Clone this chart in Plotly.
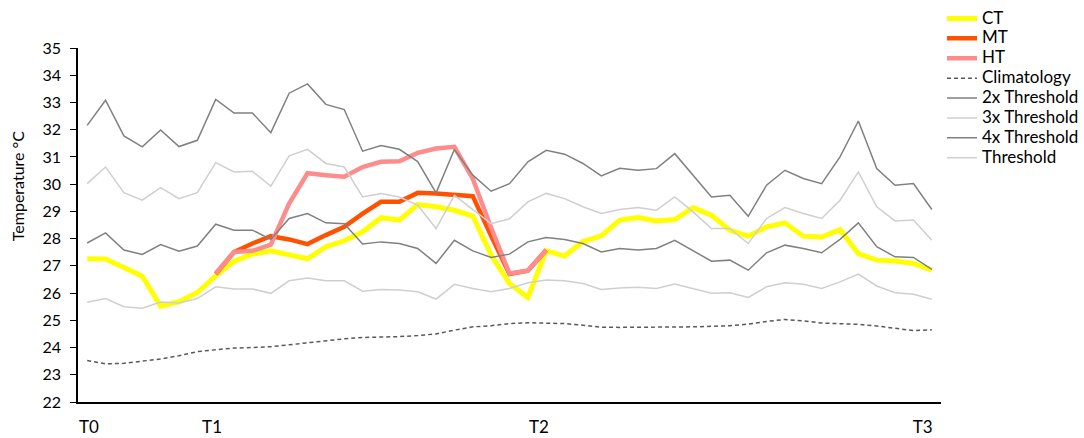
import plotly.graph_objects as go

N = None
ct = [27.26, 27.25, 26.94, 26.62, 25.52, 25.68, 26.02, 26.63, 27.17, 27.43, 27.55, 27.39, 27.26, 27.70, 27.92,
      28.25, 28.77, 28.68, 29.25, 29.17, 29.04, 28.83, 27.40, 26.35, 25.84, 27.55, 27.36, 27.89, 28.10, 28.68,
      28.77, 28.65, 28.70, 29.14, 28.86, 28.31, 28.09, 28.43, 28.58, 28.09, 28.06, 28.33, 27.45, 27.21, 27.18, 27.09, 26.84]
mt = [N, N, N, N, N, N, N, 26.70, 27.51, 27.82, 28.09, 27.97, 27.80, 28.13, 28.43,
      28.92, 29.35, 29.35, 29.68, 29.66, 29.59, 29.56, 28.10, 26.70, 26.82, 27.58] + [N] * 21
ht = [N, N, N, N, N, N, N, 26.72, 27.51, 27.55, 27.78, 29.29, 30.40, 30.33, 30.27,
      30.63, 30.82, 30.84, 31.15, 31.31, 31.37, 30.20, 28.40, 26.72, 26.82, 27.58] + [N] * 21
climatology = [23.52, 23.40, 23.42, 23.50, 23.58, 23.70, 23.85, 23.92, 23.98, 24.00, 24.03, 24.10, 24.18, 24.25, 24.32,
               24.37, 24.38, 24.40, 24.44, 24.50, 24.64, 24.76, 24.80, 24.88, 24.91, 24.90, 24.88, 24.82, 24.75, 24.74,
               24.74, 24.75, 24.76, 24.76, 24.78, 24.80, 24.86, 24.96, 25.03, 24.98, 24.90, 24.87, 24.85, 24.79, 24.70, 24.62, 24.65]
thr2 = [27.84, 28.21, 27.58, 27.42, 27.78, 27.54, 27.73, 28.53, 28.31, 28.31, 27.97, 28.74, 28.92, 28.58, 28.55,
        27.80, 27.88, 27.82, 27.64, 27.09, 27.94, 27.55, 27.31, 27.43, 27.88, 28.04, 27.97, 27.82, 27.51, 27.64,
        27.58, 27.64, 27.94, 27.55, 27.17, 27.21, 26.84, 27.48, 27.76, 27.64, 27.48, 27.97, 28.58, 27.70, 27.33, 27.31, 26.87]
thr3 = [30.02, 30.63, 29.69, 29.41, 29.87, 29.47, 29.69, 30.79, 30.45, 30.47, 29.93, 31.04, 31.28, 30.76, 30.63,
        29.53, 29.66, 29.53, 29.23, 28.37, 29.59, 29.07, 28.55, 28.73, 29.35, 29.66, 29.47, 29.17, 28.92, 29.07,
        29.14, 29.04, 29.53, 28.98, 28.37, 28.37, 27.82, 28.74, 29.14, 28.92, 28.74, 29.41, 30.45, 29.17, 28.65, 28.68, 27.94]
thr4 = [32.16, 33.08, 31.77, 31.37, 31.99, 31.38, 31.61, 33.11, 32.61, 32.61, 31.89, 33.34, 33.68, 32.93, 32.74,
        31.21, 31.42, 31.28, 30.83, 29.68, 31.27, 30.33, 29.74, 30.02, 30.82, 31.24, 31.10, 30.76, 30.30, 30.58,
        30.51, 30.57, 31.12, 30.33, 29.53, 29.59, 28.82, 29.96, 30.51, 30.21, 30.02, 31.00, 32.32, 30.57, 29.96, 30.02, 29.07]
thr1 = [25.66, 25.80, 25.50, 25.44, 25.67, 25.64, 25.80, 26.23, 26.15, 26.15, 25.99, 26.45, 26.55, 26.45, 26.45,
        26.07, 26.13, 26.11, 26.05, 25.78, 26.32, 26.17, 26.05, 26.17, 26.38, 26.48, 26.45, 26.35, 26.13, 26.19,
        26.21, 26.17, 26.33, 26.17, 25.99, 26.01, 25.84, 26.23, 26.38, 26.32, 26.17, 26.41, 26.70, 26.26, 26.01, 25.96, 25.77]

x = list(range(len(ct)))
tick_labels = ["T0", "T1", "T2", "T3"]
tick_pos = [0.1, 6.8, 24.6, 45.5]

FONT = "Lato"
fig = go.Figure()
series = [
    ("CT", ct, dict(color="#FFFF00", width=5)),
    ("MT", mt, dict(color="#FF5200", width=4.5)),
    ("HT", ht, dict(color="#FF8C8C", width=4.5)),
    ("Climatology", climatology, dict(color="#595959", width=1.5, dash="4px,3px")),
    ("2x Threshold", thr2, dict(color="#808080", width=1.5)),
    ("3x Threshold", thr3, dict(color="#CFCFCF", width=1.5)),
    ("4x Threshold", thr4, dict(color="#808080", width=1.5)),
    ("Threshold", thr1, dict(color="#CFCFCF", width=1.5)),
]
for name, y, line in series:
    fig.add_trace(go.Scatter(x=x, y=y, name='<span style="font-size:17px">%s</span>' % name,
                             mode="lines", line=line, connectgaps=False))

fig.update_layout(
    width=1084, height=438,
    margin=dict(l=78, r=143, t=48, b=36, autoexpand=False),
    plot_bgcolor="white", paper_bgcolor="white",
    font=dict(family=FONT, size=15, color="black"),
    showlegend=True,
    legend=dict(x=942 / 1084, xref="container", y=1 - 3.5 / 438, yref="container",
                xanchor="left", yanchor="top", font=dict(size=13, family=FONT),
                tracegroupgap=0, itemwidth=30, bgcolor="rgba(0,0,0,0)"),
    annotations=[dict(text="Temperature °C", textangle=-90, xref="paper", yref="paper",
                      x=(17 - 78) / 862.7, y=(402 - 186) / 354.3, showarrow=False,
                      xanchor="center", yanchor="middle", font=dict(size=16, family=FONT))],
)
fig.update_xaxes(range=[-0.5, 46.5], tickvals=tick_pos, ticktext=tick_labels, showgrid=False,
                 zeroline=False, showline=True, linecolor="black", linewidth=1.5, ticks="",
                 ticklabelstandoff=9, tickfont=dict(size=17, family=FONT), automargin=False)
fig.update_yaxes(range=[22, 35], dtick=1, showgrid=False, zeroline=False, showline=True,
                 linecolor="black", linewidth=1.5, ticks="outside", ticklen=6, tickwidth=1.2,
                 tickcolor="black", ticklabelstandoff=6, tickfont=dict(size=16, family=FONT),
                 automargin=False)

fig.write_html("out.html", config={"displayModeBar": False},
               post_script="document.body.style.margin='0';document.body.style.overflow='hidden';")
